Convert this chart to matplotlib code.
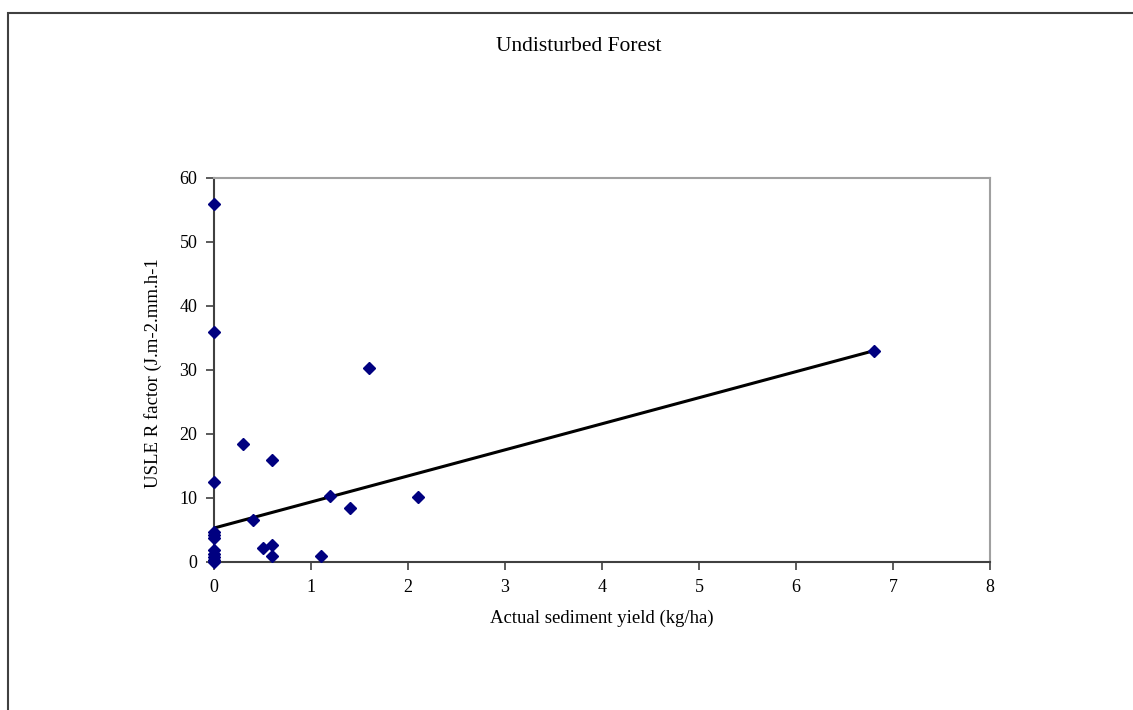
import matplotlib
matplotlib.use('Agg')
import matplotlib.pyplot as plt
from matplotlib.patches import Rectangle

# data
sediment_yield = [0, 0, 0, 0, 0, 0, 0, 0, 0, 0, 0,
                  0.3, 0.4, 0.5, 0.6, 0.6, 0.6, 1.1, 1.2, 1.4, 1.6, 2.1, 6.8]
r_factor = [56, 36, 12.5, 4.7, 4.2, 3.7, 1.8, 1.2, 0.7, 0.3, 0.0,
            18.4, 6.5, 2.2, 15.9, 2.7, 0.9, 0.9, 10.3, 8.5, 30.3, 10.1, 33.0]

# trend line end points
trend_x = [0, 6.8]
trend_y = [5.3, 33.0]

x_ticks = [0, 1, 2, 3, 4, 5, 6, 7, 8]
y_ticks = [0, 10, 20, 30, 40, 50, 60]

plt.rcParams['font.family'] = ['Liberation Serif', 'DejaVu Serif']

fig = plt.figure(figsize=(11.33, 7.10), dpi=100)
ax = fig.add_axes([0.1889, 0.2085, 0.6849, 0.5408])

#outer chart frame (runs off the right and bottom of the picture)
fig.patches.append(Rectangle((8 / 1133, -0.1), 1.2, 1.1 - 13 / 710,
                             transform=fig.transFigure, fill=False,
                             edgecolor='#404040', linewidth=1.5))

ax.plot(trend_x, trend_y, color='black', linewidth=2.2, zorder=2)
ax.plot(sediment_yield, r_factor, linestyle='none', marker='D',
        markersize=6, color='#000080', clip_on=False, zorder=3)

ax.set_xlim(0, 8)
ax.set_ylim(0, 60)
ax.set_xticks(x_ticks)
ax.set_yticks(y_ticks)
ax.tick_params(direction='out', length=6, width=1.2, color='#404040',
               labelsize=13, pad=6)

for side in ['left', 'bottom']:
    ax.spines[side].set_color('#404040')
    ax.spines[side].set_linewidth(1.5)
for side in ['top', 'right']:
    ax.spines[side].set_color('#a0a0a0')
    ax.spines[side].set_linewidth(1.5)

fig.text(0.511, 0.935, 'Undisturbed Forest', ha='center', va='center', fontsize=15.5)
fig.text(0.531, 0.129, 'Actual sediment yield (kg/ha)', ha='center', va='center', fontsize=13.5)
fig.text(0.135, 0.475, 'USLE R factor (J.m-2.mm.h-1', ha='center', va='center',
         rotation=90, fontsize=13.5)

fig.savefig('out.png', dpi=100)
